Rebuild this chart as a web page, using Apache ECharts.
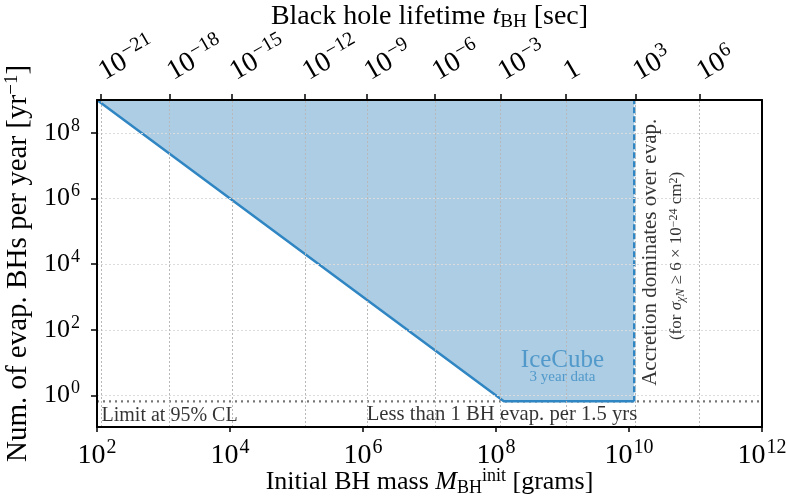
<!DOCTYPE html>
<html>
<head>
<meta charset="utf-8">
<script src="https://cdn.jsdelivr.net/npm/echarts@6/dist/echarts.min.js"></script>
<style>
  html, body { margin: 0; padding: 0; background: #fff; }
  #chart { width: 786px; height: 504px; }
</style>
</head>
<body>
<div id="chart"></div>
<script>
// bottom axis: initial BH mass [g]
var massTicks = [1e2, 1e4, 1e6, 1e8, 1e10, 1e12];
// left axis: number of evaporating BHs per year
var rateTicks = [1, 1e2, 1e4, 1e6, 1e8];
// top axis: BH lifetime (exponent of sec) and the mass it sits at
var lifeExp = [-21, -18, -15, -12, -9, -6, -3, 0, 3, 6];
var lifeMass = [1.15e2, 1.23e3, 1.08e4, 1.35e5, 1.14e6, 1.2e7, 1.17e8, 1.13e9, 1.26e10, 1.14e11];
// IceCube exclusion boundary
var boundMass = [1e2, 1.31e8, 1.2e10];
var boundRate = [1e9, 0.667, 0.667];
var accretionMass = 1.2e10;
var limitRate = 0.667;

var FONT = 'Liberation Serif';
var BLUE = '#2f86c3';

function pairs(xs, ys) {
    return xs.map(function (x, i) { return [x, ys[i]]; });
}
function expOf(v) { return Math.round(Math.log10(v)); }
function pow10(e) {
    return '{b|10}{s|' + String(e).replace('-', '\u2212') + '}';
}
function tickRich(size) {
    return {
        b: { fontSize: size, fontFamily: FONT, color: '#000' },
        s: { fontSize: Math.round(size * 0.7), fontFamily: FONT, color: '#000', padding: [0, 0, Math.round(size * 0.55), 1] }
    };
}
function noMark(x, y, text, lbl) {
    return { value: [x, y], label: Object.assign({ show: true, formatter: text, fontFamily: FONT, color: '#000', position: 'inside' }, lbl) };
}

var chart = echarts.init(document.getElementById('chart'), null, { width: 786, height: 504 });

var option = {
    animation: false,
    backgroundColor: '#fff',
    grid: { left: 97, right: 24, top: 100, bottom: 77, containLabel: false, outerBoundsMode: 'none' },
    xAxis: [{
        type: 'log', logBase: 10, min: 1e2, max: 1e12, position: 'bottom', z: 5,
        axisLine: { show: true, onZero: false, lineStyle: { color: '#000', width: 2 } },
        axisTick: { show: true, length: 5, lineStyle: { color: '#000', width: 1.5 }, customValues: massTicks },
        axisLabel: {
            customValues: massTicks, margin: 11,
            formatter: function (v) { return pow10(expOf(v)); },
            rich: tickRich(28)
        },
        minorTick: { show: false },
        splitLine: { show: false },
        name: '{r|Initial BH mass }{i|M}{sub|BH}{sup|init}{r| [grams]}',
        nameLocation: 'middle', nameGap: 40, nameMoveOverlap: false,
        nameTextStyle: {
            rich: {
                r: { fontSize: 26, fontFamily: FONT, color: '#000' },
                i: { fontSize: 26, fontFamily: FONT, fontStyle: 'italic', color: '#000' },
                sub: { fontSize: 18, fontFamily: FONT, color: '#000', padding: [12, 0, 0, 0] },
                sup: { fontSize: 18, fontFamily: FONT, color: '#000', padding: [0, 0, 12, 0] }
            }
        }
    }, {
        type: 'log', logBase: 10, min: 1e2, max: 1e12, position: 'top', z: 5,
        axisLine: { show: true, onZero: false, lineStyle: { color: '#000', width: 2 } },
        axisTick: { show: true, length: 6, lineStyle: { color: '#000', width: 1.5 }, customValues: lifeMass },
        axisLabel: {
            customValues: lifeMass, rotate: -30, margin: 26, align: 'left', verticalAlign: 'middle',
            formatter: function (v) {
                var best = 0, d = Infinity;
                lifeMass.forEach(function (m, i) {
                    var dd = Math.abs(Math.log10(m) - Math.log10(v));
                    if (dd < d) { d = dd; best = i; }
                });
                var e = lifeExp[best];
                return e === 0 ? '{b|1}' : pow10(e);
            },
            rich: tickRich(28)
        },
        splitLine: { show: false },
        name: '{r|Black hole lifetime }{i|t}{sub|BH}{r| [sec]}',
        nameLocation: 'middle', nameGap: 68, nameMoveOverlap: false,
        nameTextStyle: {
            rich: {
                r: { fontSize: 28, fontFamily: FONT, color: '#000' },
                i: { fontSize: 28, fontFamily: FONT, fontStyle: 'italic', color: '#000' },
                sub: { fontSize: 19, fontFamily: FONT, color: '#000', padding: [12, 0, 0, 0] }
            }
        }
    }],
    yAxis: [{
        type: 'log', logBase: 10, min: 0.11, max: 1e9, position: 'left', z: 5,
        axisLine: { show: true, onZero: false, lineStyle: { color: '#000', width: 2 } },
        axisTick: { show: true, length: 6, lineStyle: { color: '#000', width: 1.5 }, customValues: rateTicks },
        axisLabel: {
            customValues: rateTicks, margin: 17,
            formatter: function (v) { return pow10(expOf(v)); },
            rich: tickRich(26)
        },
        minorTick: { show: false },
        splitLine: { show: false },
        name: '{r|Num. of evap. BHs per year [yr}{s|\u22121}{r|]}',
        nameLocation: 'middle', nameGap: 51,
        nameTextStyle: {
            rich: {
                r: { fontSize: 29, fontFamily: FONT, color: '#000' },
                s: { fontSize: 19, fontFamily: FONT, color: '#000', padding: [0, 0, 13, 0] }
            }
        }
    }, {
        type: 'log', logBase: 10, min: 0.11, max: 1e9, position: 'right', z: 5,
        axisLine: { show: true, onZero: false, lineStyle: { color: '#000', width: 2 } },
        axisTick: { show: false },
        axisLabel: { show: false },
        splitLine: { show: false }
    }],
    series: [
        {   // grid lines
            type: 'line', silent: true, symbol: 'none',
            data: [[1e2, 1e9]], lineStyle: { width: 0 },
            markLine: {
                silent: true, symbol: 'none', label: { show: false },
                data: rateTicks.map(function (v) {
                    return { yAxis: v, lineStyle: { color: '#dcdcdc', type: [2, 2], width: 1 } };
                }).concat(lifeMass.map(function (v) {
                    return { xAxis: v, lineStyle: { color: '#b8b8b8', type: [2, 2], width: 1 } };
                }))
            }
        },
        {   // excluded region
            type: 'line', silent: true, symbol: 'none',
            data: pairs(boundMass, boundRate).concat([[accretionMass, 1e9]]),
            lineStyle: { width: 0 },
            areaStyle: { origin: 'end', color: '#1f77b4', opacity: 0.37 }
        },
        {   // 95% CL level
            type: 'line', silent: true, symbol: 'none',
            data: [[1e2, limitRate], [1e12, limitRate]],
            lineStyle: { color: '#777777', width: 2.2, type: [2, 4] }
        },
        {   // boundary
            type: 'line', silent: true, symbol: 'none',
            data: pairs(boundMass, boundRate),
            lineStyle: { color: BLUE, width: 2.5 }
        },
        {   // accretion limit
            type: 'line', silent: true, symbol: 'none',
            data: [[accretionMass, limitRate], [accretionMass, 1e9]],
            lineStyle: { color: BLUE, width: 2.5, type: [6, 3] }
        },
        {   // annotations
            type: 'scatter', silent: true, symbolSize: 1, z: 6,
            itemStyle: { color: 'rgba(0,0,0,0)' },
            data: [
                noMark(117, 0.24, 'Limit at 95% CL', { fontSize: 20, align: 'left' }),
                noMark(1.23e8, 0.26, 'Less than 1 BH evap. per 1.5 yrs', { fontSize: 20.7 }),
                noMark(1e9, 12, 'IceCube', { fontSize: 25, color: '#3b8cc4' }),
                noMark(1e9, 3.7, '3 year data', { fontSize: 15, color: '#3b8cc4' }),
                noMark(2.14e10, 2.3e4, 'Accretion dominates over evap.', { fontSize: 21, rotate: 90 }),
                noMark(5.25e10, 1.78e4, '{r|(for }{i|\u03c3}{sub|\u03c7N}{r| \u2265 6 \u00d7 10}{sup|\u221224}{r| cm}{sup|2}{r|)}', {
                    rotate: 90,
                    rich: {
                        r: { fontSize: 17, fontFamily: FONT, color: '#000' },
                        i: { fontSize: 17, fontFamily: FONT, fontStyle: 'italic', color: '#000' },
                        sub: { fontSize: 12, fontFamily: FONT, fontStyle: 'italic', color: '#000', padding: [7, 0, 0, 0] },
                        sup: { fontSize: 12, fontFamily: FONT, color: '#000', padding: [0, 0, 7, 0] }
                    }
                })
            ]
        }
    ]
};

chart.setOption(option);
</script>
</body>
</html>
